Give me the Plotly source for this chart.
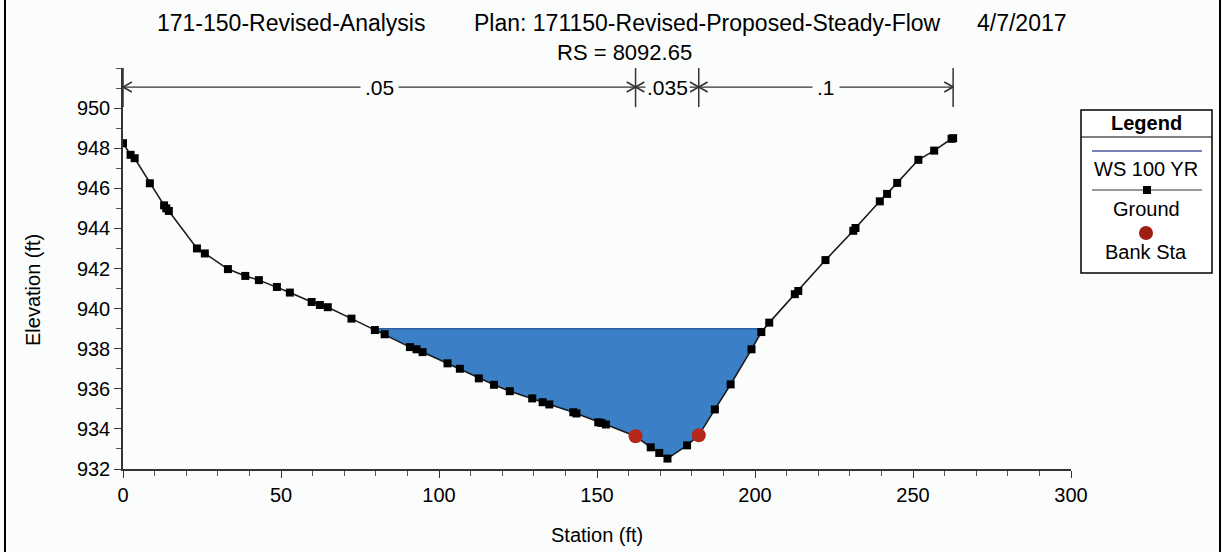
import numpy as np
import plotly.graph_objects as go

# Cross-section data
station = [0.0, 2.4, 3.7, 8.5, 13.0, 13.7, 14.5, 23.4, 25.9, 33.2, 38.7, 43.0, 48.7, 52.8,
           59.7, 62.3, 64.8, 72.3, 79.7, 82.8, 90.8, 92.9, 94.8, 102.7, 106.6, 112.6, 117.4,
           122.4, 129.5, 132.8, 134.9, 142.5, 143.5, 150.4, 151.4, 152.8, 162.2, 167.0,
           169.7, 172.3, 178.5, 182.2, 187.3, 192.3, 198.9, 202.0, 204.5, 212.6, 213.7,
           222.3, 231.1, 231.8, 239.5, 241.8, 245.0, 251.7, 256.7, 262.2, 262.7]
elevation = [948.25, 947.67, 947.5, 946.25, 945.15, 945.0, 944.87, 943.0, 942.75, 941.97,
             941.63, 941.42, 941.08, 940.8, 940.33, 940.18, 940.07, 939.5, 938.93, 938.72,
             938.08, 937.97, 937.83, 937.27, 937.0, 936.52, 936.2, 935.88, 935.52, 935.33,
             935.22, 934.83, 934.77, 934.33, 934.3, 934.22, 933.63, 933.08, 932.8, 932.52,
             933.18, 933.68, 934.97, 936.22, 937.97, 938.83, 939.3, 940.72, 940.88, 942.42,
             943.88, 944.02, 945.35, 945.72, 946.27, 947.42, 947.88, 948.47, 948.5]

bank_sta = [162.2, 182.2]
bank_elev = [933.63, 933.68]

ws_elev = 939.0

n_breaks = [0.0, 162.2, 182.2, 262.7]
n_values = [".05", ".035", ".1"]

BG = "#fbfdfd"

# plot area in pixels, used to place the legend box and titles
L, R, T, B = 123, 1071, 68, 469


def px(xp):
    return (xp - L) / (R - L)


def py(yp):
    return (B - yp) / (B - T)


def label(xp, yp, text, size, angle=0, anchor="center"):
    fig.add_annotation(x=px(xp), y=py(yp), xref="paper", yref="paper", text=text,
                       xanchor=anchor, yanchor="middle", textangle=angle,
                       showarrow=False, font=dict(size=size))


# water polygon: ground below the water surface plus the two crossings
gx = np.array(station)
gy = np.array(elevation)
below = np.where(gy < ws_elev)[0]
i0, i1 = below[0], below[-1]
xl = np.interp(ws_elev, [gy[i0], gy[i0 - 1]], [gx[i0], gx[i0 - 1]])
xr = np.interp(ws_elev, [gy[i1], gy[i1 + 1]], [gx[i1], gx[i1 + 1]])
wx = [xl] + list(gx[i0:i1 + 1]) + [xr, xl]
wy = [ws_elev] + list(gy[i0:i1 + 1]) + [ws_elev, ws_elev]

fig = go.Figure()

fig.add_trace(go.Scatter(x=wx, y=wy, mode="lines", fill="toself",
                         fillcolor="#3b7fc6", line=dict(width=0),
                         hoverinfo="skip", showlegend=False))
fig.add_trace(go.Scatter(x=[xl, xr], y=[ws_elev, ws_elev], mode="lines",
                         line=dict(color="#2d5f9e", width=1.5),
                         name="WS 100 YR", showlegend=False))
fig.add_trace(go.Scatter(x=station, y=elevation, mode="lines+markers",
                         line=dict(color="#1a1a1a", width=1.6),
                         marker=dict(symbol="square", size=8, color="#000000"),
                         name="Ground", showlegend=False))
fig.add_trace(go.Scatter(x=bank_sta, y=bank_elev, mode="markers",
                         marker=dict(symbol="circle", size=14, color="#b5261b"),
                         name="Bank Sta", showlegend=False))

# Manning's n bar across the top
n_y = 951.05
fig.add_trace(go.Scatter(x=[n_breaks[0], n_breaks[-1]], y=[n_y, n_y], mode="lines",
                         line=dict(color="#333333", width=1.2),
                         hoverinfo="skip", showlegend=False))
chev_x, chev_y = [], []
dx, dy = 2.8, 0.25
for a, b in zip(n_breaks[:-1], n_breaks[1:]):
    chev_x += [a + dx, a, a + dx, None, b - dx, b, b - dx, None]
    chev_y += [n_y + dy, n_y, n_y - dy, None, n_y + dy, n_y, n_y - dy, None]
fig.add_trace(go.Scatter(x=chev_x, y=chev_y, mode="lines",
                         line=dict(color="#333333", width=1.6),
                         hoverinfo="skip", showlegend=False))
for s in n_breaks:
    fig.add_shape(type="line", x0=s, x1=s, y0=950.05, y1=952.0,
                  line=dict(color="#333333", width=1.5))
for a, b, t in zip(n_breaks[:-1], n_breaks[1:], n_values):
    fig.add_annotation(x=(a + b) / 2, y=n_y, text=t, showarrow=False,
                       xanchor="center", yanchor="middle",
                       bgcolor=BG, borderpad=1 if t == ".035" else 4,
                       font=dict(size=21, color="black"))

font = "Liberation Sans, Arial, sans-serif"

# titles
label(155, 23, "171-150-Revised-Analysis", 23, anchor="left")
label(472, 23, "Plan: 171150-Revised-Proposed-Steady-Flow", 23, anchor="left")
label(975, 23, "4/7/2017", 23, anchor="left")
label(624, 52, "RS = 8092.65", 22)

# axis titles
label(33, 290, "Elevation (ft)", 20, angle=-90)
label(597, 535, "Station (ft)", 20)

# legend box drawn by hand
lx0, lx1 = px(1081), px(1212)
fig.add_shape(type="rect", xref="paper", yref="paper", x0=lx0, x1=lx1, y0=py(273), y1=py(110),
              line=dict(color="black", width=1.5), fillcolor="white")
fig.add_shape(type="line", xref="paper", yref="paper", x0=lx0, x1=lx1, y0=py(137), y1=py(137),
              line=dict(color="black", width=1.2))
label(1146, 123, "<b>Legend</b>", 20)
fig.add_shape(type="line", xref="paper", yref="paper", x0=px(1092), x1=px(1202),
              y0=py(151), y1=py(151), line=dict(color="#4a5a9e", width=1.5))
label(1146, 169, "WS 100 YR", 20)
fig.add_shape(type="line", xref="paper", yref="paper", x0=px(1092), x1=px(1202),
              y0=py(190), y1=py(190), line=dict(color="#333333", width=1.2))
fig.add_shape(type="rect", xref="paper", yref="paper", x0=px(1143), x1=px(1151),
              y0=py(194), y1=py(186), line=dict(width=0), fillcolor="black")
label(1146, 209, "Ground", 20)
fig.add_shape(type="circle", xref="paper", yref="paper", x0=px(1139), x1=px(1153),
              y0=py(240), y1=py(226), line=dict(width=0), fillcolor="#9e1e14")
label(1146, 252, "Bank Sta", 20)

# outer frame lines
for xp in (5, 1220):
    fig.add_shape(type="line", xref="paper", yref="paper", x0=px(xp), x1=px(xp),
                  y0=py(0), y1=py(552), line=dict(color="black", width=2))

fig.update_layout(
    width=1223, height=552,
    margin=dict(l=L, r=1223 - R, t=T, b=552 - B),
    paper_bgcolor=BG, plot_bgcolor=BG,
    font=dict(family=font, size=20, color="black"),
    showlegend=False,
)
fig.update_xaxes(range=[0, 300], dtick=50, showline=True, linecolor="#333333", linewidth=1.5,
                 ticks="outside", ticklen=7, tickcolor="#333333", showgrid=False, zeroline=False,
                 minor=dict(dtick=10, ticks="outside", ticklen=5, tickcolor="#555555"),
                 tickfont=dict(size=20))
fig.update_yaxes(range=[932, 952], tickvals=list(range(932, 951, 2)), showline=True,
                 linecolor="#333333", linewidth=1.5, ticks="outside", ticklen=7,
                 tickcolor="#333333", showgrid=False, zeroline=False,
                 minor=dict(dtick=1, ticks="outside", ticklen=5, tickcolor="#555555"),
                 tickfont=dict(size=20))

fig.write_html("out.html", config={"displayModeBar": False},
               post_script="document.body.style.margin='0';")
